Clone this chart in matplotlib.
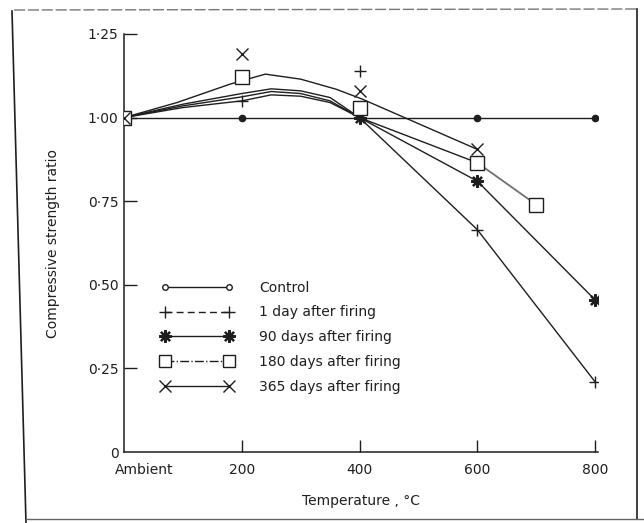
import matplotlib
matplotlib.use("Agg")
import matplotlib.pyplot as plt
from matplotlib.lines import Line2D
from matplotlib.transforms import ScaledTranslation

# ---------------- data ----------------
x_ticks = [0, 200, 400, 600, 800]
x_ticklabels = ["Ambient", "200", "400", "600", "800"]
y_ticks = [0, 0.25, 0.50, 0.75, 1.00, 1.25]
y_ticklabels = ["0", "0·25", "0·50", "0·75", "1·00", "1·25"]

series_names = ["Control", "1 day after firing", "90 days after firing",
                "180 days after firing", "365 days after firing"]

# measured points (markers)
control_t = [0, 200, 400, 600, 800]
control_v = [1.00, 1.00, 1.00, 1.00, 1.00]

day1_t = [0, 200, 400, 600, 800]
day1_v = [1.00, 1.05, 1.14, 0.665, 0.21]

day90_t = [0, 400, 600, 800]
day90_v = [1.00, 1.00, 0.81, 0.455]

day180_t = [0, 200, 400, 600, 700]
day180_v = [1.00, 1.12, 1.03, 0.865, 0.74]

day365_t = [0, 200, 400, 600]
day365_v = [1.00, 1.19, 1.08, 0.905]

# hand-drawn fitted curves
day1_curve_t = [0, 100, 200, 250, 300, 350, 400, 600, 800]
day1_curve_v = [1.00, 1.03, 1.05, 1.068, 1.064, 1.045, 1.00, 0.665, 0.21]

day90_curve_t = [0, 100, 200, 250, 300, 350, 400, 600, 800]
day90_curve_v = [1.00, 1.035, 1.062, 1.078, 1.072, 1.05, 1.00, 0.81, 0.455]

day180_curve_t = [0, 100, 200, 250, 300, 350, 400, 600]
day180_curve_v = [1.00, 1.04, 1.072, 1.086, 1.08, 1.06, 1.00, 0.865]
day180_tail_t = [600, 700]
day180_tail_v = [0.865, 0.74]

day365_curve_t = [0, 90, 180, 240, 300, 360, 405, 600]
day365_curve_v = [1.00, 1.045, 1.10, 1.13, 1.115, 1.085, 1.055, 0.905]

# ---------------- figure ----------------
plt.rcParams['font.family'] = ['DejaVu Sans']
ink = "#1e1e1e"
fig = plt.figure(figsize=(6.44, 5.23), dpi=100)
ax = fig.add_axes([124/644, 1-452/523, (598-124)/644, (452-34)/523])

lw = 1.0
# control
ax.plot(control_t, control_v, color=ink, lw=lw, marker='o', ms=4.5,
        mfc=ink, mec=ink, zorder=3)
# curves
ax.plot(day1_curve_t, day1_curve_v, color=ink, lw=lw, zorder=2)
ax.plot(day90_curve_t, day90_curve_v, color=ink, lw=lw, zorder=2)
ax.plot(day180_curve_t, day180_curve_v, color=ink, lw=lw, zorder=2)
ax.plot(day180_tail_t, day180_tail_v, color="#707070", lw=1.3, zorder=2)
ax.plot(day365_curve_t, day365_curve_v, color=ink, lw=lw, zorder=2)

# markers
ax.plot(day1_t, day1_v, ls='none', marker='+', ms=9, mew=1.0, color=ink, zorder=4)
ax.plot(day90_t, day90_v, ls='none', marker=(8, 2, 0), ms=9, mew=1.6,
        color=ink, zorder=4)
ax.plot(day180_t, day180_v, ls='none', marker='s', ms=10, mew=1.0, mfc='white',
        mec=ink, zorder=4)
ax.plot(day365_t, day365_v, ls='none', marker='x', ms=8, mew=1.0, color=ink, zorder=4)

# axes styling
ax.set_xlim(0, 805)
ax.set_ylim(0, 1.25)
for s in ['top', 'right']:
    ax.spines[s].set_visible(False)
for s in ['left', 'bottom']:
    ax.spines[s].set_color(ink)
    ax.spines[s].set_linewidth(1.1)
ax.set_xticks(x_ticks)
ax.set_xticklabels(x_ticklabels)
ax.set_yticks(y_ticks)
ax.set_yticklabels(y_ticklabels)
ax.tick_params(axis='both', direction='in', length=9, width=1.0, color=ink,
               labelcolor=ink, labelsize=10)
ax.tick_params(axis='x', pad=8)
ax.tick_params(axis='y', pad=4)
ax.xaxis.get_major_ticks()[0].tick1line.set_visible(False)
ax.yaxis.get_major_ticks()[0].tick1line.set_visible(False)
amb = ax.get_xticklabels()[0]
amb.set_transform(amb.get_transform() + ScaledTranslation(0.2, 0, fig.dpi_scale_trans))

ax.set_xlabel("Temperature , °C", fontsize=10, color=ink, labelpad=12)
ax.set_ylabel("Compressive strength ratio", fontsize=10, color=ink, labelpad=20)

# legend (proxy handles showing each style)
handles = [
    Line2D([], [], color=ink, lw=lw, marker='o', ms=4, mfc='white', mec=ink),
    Line2D([], [], color=ink, lw=lw, ls=(0, (5, 3)), marker='+', ms=9, mew=1.0),
    Line2D([], [], color=ink, lw=lw, marker=(8, 2, 0), ms=9, mew=1.6),
    Line2D([], [], color=ink, lw=lw, ls='-.', marker='s', ms=8, mfc='white', mec=ink),
    Line2D([], [], color=ink, lw=lw, marker='x', ms=8, mew=1.0),
]
leg = ax.legend(handles, series_names, loc='upper left',
                bbox_to_anchor=(0.077, 0.41), frameon=False, fontsize=10,
                numpoints=2, handlelength=5.2, handletextpad=1.9,
                labelspacing=0.78, borderpad=0, borderaxespad=0)
for t in leg.get_texts():
    t.set_color(ink)

# scan frame
W, H = 644, 523
def fl(x0, y0, x1, y1, **kw):
    fig.add_artist(Line2D([x0/W, x1/W], [1-y0/H, 1-y1/H], transform=fig.transFigure, **kw))
fl(14, 10, 636, 9, color="#777777", lw=1.0, ls=(0, (8, 2)))
fl(12, 11, 26, 523, color=ink, lw=1.2)
fl(637, 9, 637, 519, color=ink, lw=1.2)
fl(26, 519, 644, 519, color="#666666", lw=1.0)

fig.savefig("out.png", dpi=100)
